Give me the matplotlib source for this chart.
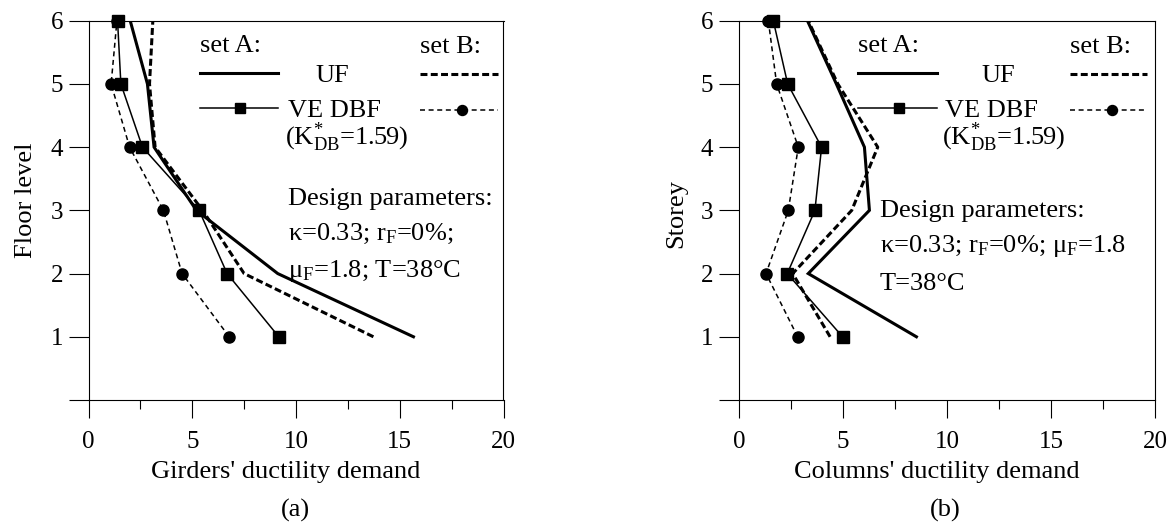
import numpy as np
import matplotlib
matplotlib.use('Agg')
import matplotlib.pyplot as plt
from matplotlib.lines import Line2D

plt.rcParams['font.family'] = ['Liberation Serif', 'DejaVu Serif']
plt.rcParams['mathtext.fontset'] = 'custom'
plt.rcParams['mathtext.rm'] = 'Liberation Serif'
plt.rcParams['mathtext.it'] = 'Liberation Serif:italic'
plt.rcParams['lines.scale_dashes'] = False

FS = 19      # labels and notes
FS_TICK = 18

# floor / storey numbers
floors = [1, 2, 3, 4, 5, 6]

# girders' ductility demand, floors 1..6
girders_uf_a = [15.66, 9.12, 5.20, 3.16, 2.84, 2.01]
girders_uf_b = [13.73, 7.50, 5.50, 3.21, 2.94, 3.10]
girders_dbf_a = [9.17, 6.68, 5.33, 2.60, 1.56, 1.40]
girders_dbf_b = [6.78, 4.51, 3.61, 1.98, 1.09, 1.37]

# columns' ductility demand, storeys 1..6
columns_uf_a = [8.53, 3.33, 6.27, 6.03, 4.68, 3.29]
columns_uf_b = [4.38, 2.58, 5.42, 6.67, 4.75, 3.33]
columns_dbf_a = [4.98, 2.32, 3.65, 3.97, 2.34, 1.65]
columns_dbf_b = [2.82, 1.30, 2.37, 2.85, 1.81, 1.41]

x_ticks = [0, 5, 10, 15, 20]
y_ticks = [0, 1, 2, 3, 4, 5, 6]
y_ticklabels = ['', '1', '2', '3', '4', '5', '6']

THICK_DASH = (5.0, 2.4)
THIN_DASH = (3.6, 2.6)

W, H = 1176, 523
fig = plt.figure(figsize=(W / 100, H / 100), dpi=100)
fig.patch.set_facecolor('white')

ax_a = fig.add_axes([88.5 / W, (H - 400) / H, 415 / W, 379.3 / H])
ax_b = fig.add_axes([739 / W, (H - 400) / H, 416 / W, 379.3 / H])


def draw_panel(ax, uf_a, uf_b, dbf_a, dbf_b):
    ax.plot(uf_a, floors, color='black', lw=2.2, solid_joinstyle='miter', zorder=3)
    ax.plot(uf_b, floors, color='black', lw=2.2, linestyle=(0, THICK_DASH), zorder=3)
    ax.plot(dbf_b, floors, color='black', lw=1.1, linestyle=(0, THIN_DASH),
            marker='o', markersize=8, clip_on=False, zorder=4)
    ax.plot(dbf_a, floors, color='black', lw=1.1, marker='s', markersize=8,
            clip_on=False, zorder=5)

    ax.set_xlim(0, 20)
    ax.set_ylim(0, 6)
    ax.set_xticks(x_ticks)
    ax.set_xticks([2.5, 7.5, 12.5, 17.5], minor=True)
    ax.set_yticks(y_ticks)
    ax.set_yticklabels(y_ticklabels)
    ax.tick_params(axis='x', which='major', direction='out', length=13, width=0.8,
                   pad=9.5, labelsize=FS_TICK)
    ax.tick_params(axis='x', which='minor', direction='out', length=6.5, width=0.8)
    ax.tick_params(axis='y', which='major', direction='out', length=14.4, width=0.8,
                   pad=4, labelsize=FS_TICK)
    for sp in ax.spines.values():
        sp.set_linewidth(0.8)


def draw_key(ax, xa, xb, x_uf, x_ve, x_sq, x_ci):
    # hand-made key: set A / set B columns
    t = ax.transAxes
    ax.text(xa[0], 0.918, 'set A:', transform=t, fontsize=FS, va='baseline')
    ax.text(xb[0], 0.915, 'set B:', transform=t, fontsize=FS, va='baseline')
    ax.add_line(Line2D(xa, [0.863, 0.863], transform=t, color='black', lw=2.2))
    ax.add_line(Line2D(xb, [0.8595, 0.8595], transform=t, color='black', lw=2.2,
                       linestyle=(0, THICK_DASH), clip_on=False))
    ax.text(x_uf, 0.839, 'UF', transform=t, fontsize=FS, va='baseline')
    ax.add_line(Line2D(xa, [0.770, 0.770], transform=t, color='black', lw=1.1))
    ax.add_line(Line2D([x_sq], [0.770], transform=t, color='black', marker='s',
                       markersize=7.2, lw=0))
    ax.add_line(Line2D(xb, [0.7646, 0.7646], transform=t, color='black', lw=1.1,
                       linestyle=(0, THIN_DASH), clip_on=False))
    ax.add_line(Line2D([x_ci], [0.7646], transform=t, color='black', marker='o',
                       markersize=7.2, lw=0))
    ax.text(x_ve, 0.747, 'VE DBF', transform=t, fontsize=FS, va='baseline')
    ax.text(x_ve - 0.007, 0.672, r'($\mathrm{K}^{*}_{\mathrm{DB}}$=1.59)', transform=t,
            fontsize=FS, va='baseline')


draw_panel(ax_a, girders_uf_a, girders_uf_b, girders_dbf_a, girders_dbf_b)
draw_panel(ax_b, columns_uf_a, columns_uf_b, columns_dbf_a, columns_dbf_b)

draw_key(ax_a, [0.2687, 0.4566], [0.7988, 0.9867], 0.5458, 0.4807, 0.365, 0.90)
draw_key(ax_b, [0.286, 0.476], [0.7957, 0.981], 0.584, 0.495, 0.385, 0.897)

# design parameters
ax_a.text(0.4807, 0.514, 'Design parameters:', transform=ax_a.transAxes,
          fontsize=FS, va='baseline')
ax_a.text(0.4807, 0.4218, 'κ=0.33; r$_\\mathrm{F}$=0%;', transform=ax_a.transAxes,
          fontsize=FS, va='baseline')
ax_a.text(0.4807, 0.324, 'μ$_\\mathrm{F}$=1.8; T=38°C', transform=ax_a.transAxes,
          fontsize=FS, va='baseline')

ax_b.text(0.339, 0.4833, 'Design parameters:', transform=ax_b.transAxes,
          fontsize=FS, va='baseline')
ax_b.text(0.339, 0.390, 'κ=0.33; r$_\\mathrm{F}$=0%; μ$_\\mathrm{F}$=1.8',
          transform=ax_b.transAxes, fontsize=FS, va='baseline')
ax_b.text(0.339, 0.290, 'T=38°C', transform=ax_b.transAxes, fontsize=FS,
          va='baseline')

# axis titles and panel letters
fig.text(32.3 / W, 1 - 200 / H, 'Floor level', rotation=90, rotation_mode='anchor',
         ha='center', va='baseline', fontsize=FS)
fig.text(682 / W, 1 - 214 / H, 'Storey', rotation=90, rotation_mode='anchor',
         ha='center', va='baseline', fontsize=FS)
fig.text(286 / W, 1 - 478.3 / H, "Girders' ductility demand", ha='center',
         va='baseline', fontsize=FS)
fig.text(936.5 / W, 1 - 478.3 / H, "Columns' ductility demand", ha='center',
         va='baseline', fontsize=FS)
fig.text(295 / W, 1 - 516.5 / H, '(a)', ha='center', va='baseline', fontsize=FS)
fig.text(945 / W, 1 - 516.5 / H, '(b)', ha='center', va='baseline', fontsize=FS)

fig.savefig('out.png', dpi=100, facecolor='white')
